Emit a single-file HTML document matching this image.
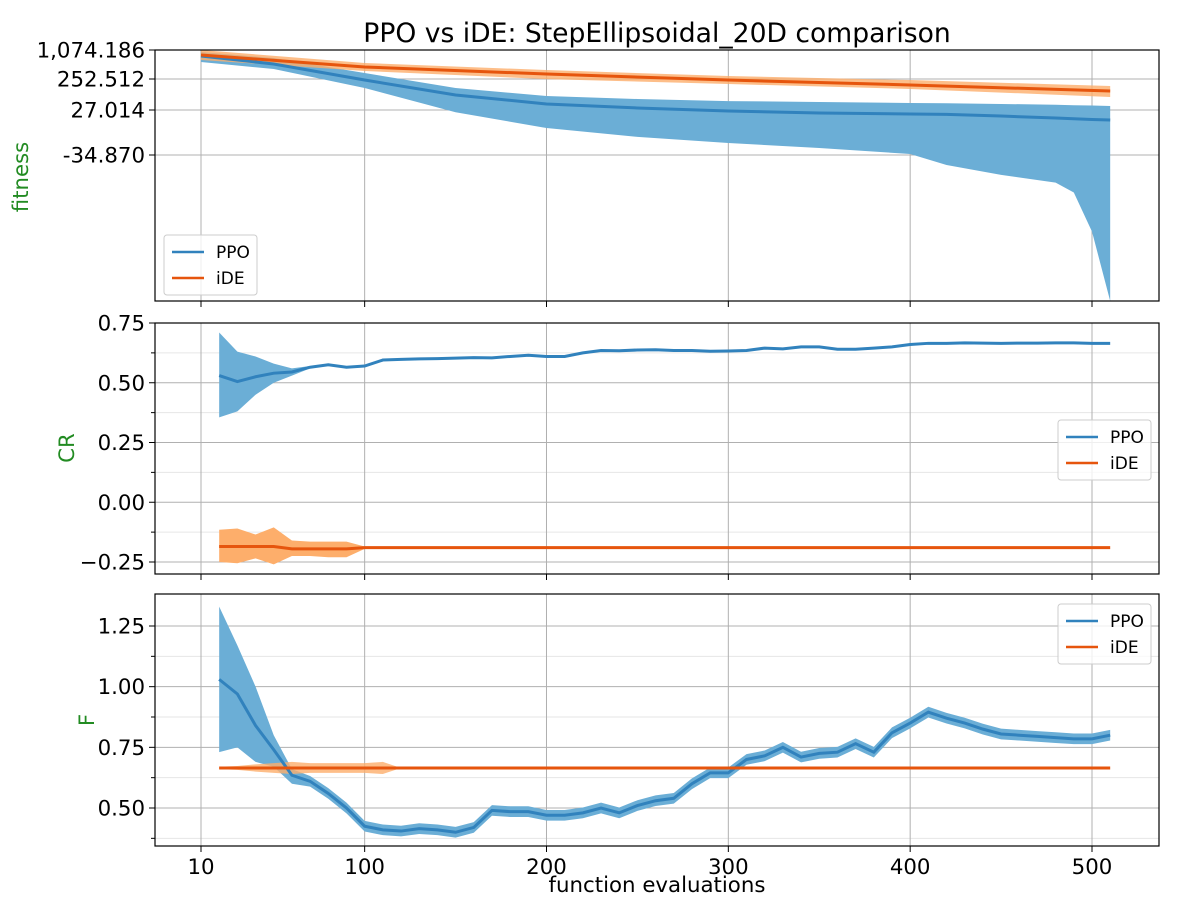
<!DOCTYPE html>
<html><head><meta charset="utf-8">
<style>
html,body{margin:0;padding:0;background:#fff;}
svg text{font-family:"DejaVu Sans","Liberation Sans",sans-serif;}
</style></head>
<body>
<svg id="chart" width="1200" height="900" viewBox="0 0 1200 900" xmlns="http://www.w3.org/2000/svg"></svg>
<script>
// ---- data ----
const xTicks = [10,100,200,300,400,500];
const fitTickVals = [1074.186,252.512,27.014,-34.870];
const fitTickLabels = ["1,074.186","252.512","27.014","-34.870"];
const fitX = [10,50,100,150,200,250,300,350,400,420,450,480,490,500,510];
const ppoFitMean = [904,678,245,136,71,42,25.6,22.9,21.5,21,18.7,16,15,14,13.2];
const ppoFitUp = [1017,847,422,187,129,107,92,85,78,76,71,65,62,60,56];
const ppoFitLo = [734,536,187,24,2.2,-10,-18.4,-25.3,-33.5,-53,-71,-85,-103,-174,-300];
const ideFitX = [10,100,200,300,400,510];
const ideFitMean = [932,592,394,245,209,165];
const ideFitUp = [1074,706,507,337,245,202];
const ideFitLo = [791,479,252,216,180,122];

const pX = [20,30,40,50,60,70,80,90,100,110,120,130,140,150,160,170,180,190,200,210,220,230,240,250,260,270,280,290,300,310,320,330,340,350,360,370,380,390,400,410,420,430,440,450,460,470,480,490,500,510];
const crPPO = [0.53,0.505,0.525,0.54,0.545,0.565,0.575,0.565,0.57,0.595,0.598,0.6,0.601,0.603,0.605,0.604,0.61,0.615,0.61,0.61,0.625,0.635,0.634,0.637,0.638,0.635,0.635,0.632,0.633,0.635,0.645,0.642,0.65,0.65,0.64,0.64,0.645,0.65,0.66,0.665,0.665,0.667,0.666,0.665,0.666,0.666,0.667,0.667,0.665,0.665];
const crPPOUp = [0.71,0.63,0.61,0.58,0.56,0.57];
const crPPOLo = [0.355,0.38,0.45,0.5,0.53,0.56];
const crIDE = [-0.185,-0.185,-0.185,-0.185,-0.195,-0.195,-0.195,-0.195,-0.19,-0.19,-0.19,-0.19,-0.19,-0.19,-0.19,-0.19,-0.19,-0.19,-0.19,-0.19,-0.19,-0.19,-0.19,-0.19,-0.19,-0.19,-0.19,-0.19,-0.19,-0.19,-0.19,-0.19,-0.19,-0.19,-0.19,-0.19,-0.19,-0.19,-0.19,-0.19,-0.19,-0.19,-0.19,-0.19,-0.19,-0.19,-0.19,-0.19,-0.19,-0.19];
const crIDEUp = [-0.115,-0.11,-0.135,-0.105,-0.16,-0.165,-0.165,-0.165,-0.185];
const crIDELo = [-0.25,-0.255,-0.235,-0.26,-0.225,-0.225,-0.23,-0.23,-0.195];

const fPPO = [1.03,0.97,0.84,0.74,0.635,0.61,0.56,0.50,0.425,0.41,0.405,0.415,0.41,0.40,0.42,0.49,0.485,0.485,0.47,0.47,0.48,0.50,0.48,0.51,0.53,0.54,0.60,0.645,0.645,0.70,0.715,0.75,0.71,0.725,0.73,0.765,0.73,0.81,0.85,0.895,0.87,0.85,0.825,0.805,0.80,0.795,0.79,0.785,0.785,0.80];
const fPPOUp = [1.33,1.17,1.0,0.8,0.66];
const fPPOLo = [0.73,0.75,0.69,0.67,0.6];
const fIDE = 0.665;
const fIDEBand = [0.005,0.008,0.015,0.02,0.025,0.02,0.02,0.02,0.02,0.025,0.0];

// ---- helpers ----
const svg = document.getElementById('chart');
const NS = 'http://www.w3.org/2000/svg';
function mk(tag, attrs, parent){const e=document.createElementNS(NS,tag);for(const k in attrs)e.setAttribute(k,attrs[k]);(parent||svg).appendChild(e);return e;}
const L=155,R=1159;
function xs(v){return 201+(v-10)*(1092-201)/490;}
const C_PPO='#3182bd',C_PPO_B='#6baed6',C_IDE='#e6550d',C_IDE_B='#fdae6b';

const fitAV=[1074.186,252.512,27.014,-34.870,-300];
const fitAP=[50,79,110,155,301];
function yFit(v){
  for(let i=0;i<fitAV.length-1;i++){
    if(v>=fitAV[i+1]||i===fitAV.length-2){return fitAP[i]+(fitAV[i]-v)/(fitAV[i]-fitAV[i+1])*(fitAP[i+1]-fitAP[i]);}
  }
}
function yCR(v){return 323+(0.75-v)*(562-323)/1.0;}
function yF(v){return 626+(1.25-v)*(808-626)/0.75;}

function band(xa,up,lo,ys,color,name){
  let d='M'+xa.map((x,i)=>xs(x)+','+ys(up[i])).join('L');
  for(let i=xa.length-1;i>=0;i--)d+='L'+xs(xa[i])+','+ys(lo[i]);
  const p=mk('path',{d:d+'Z',fill:color,stroke:'none'});
  
  
}
function line(xa,ya,ys,color,name){
  const p=mk('path',{d:'M'+xa.map((x,i)=>xs(x)+','+ys(ya[i])).join('L'),fill:'none',stroke:color,'stroke-width':3});
  
  
}
function panel(top,bot,ticks,labels,ys,minor,ylabel,name){
  const g=mk('g',{});
  
  
  (minor||[]).forEach(v=>{mk('line',{x1:L,x2:R,y1:ys(v),y2:ys(v),stroke:'#e6e6e6','stroke-width':1},g);mk('line',{x1:L-4,x2:L,y1:ys(v),y2:ys(v),stroke:'#000','stroke-width':1},g);});
  ticks.forEach((v,i)=>{
    const y=ys(v);
    mk('line',{x1:L,x2:R,y1:y,y2:y,stroke:'#b0b0b0','stroke-width':1},g);
    mk('line',{x1:L-6,x2:L,y1:y,y2:y,stroke:'#000','stroke-width':1},g);
    const t=mk('text',{x:L-10,y:y+7.5,'text-anchor':'end','font-size':21.3,fill:'#000'},g);t.textContent=labels[i];
  });
  xTicks.forEach(v=>{
    mk('line',{x1:xs(v),x2:xs(v),y1:top,y2:bot,stroke:'#b0b0b0','stroke-width':1},g);
    mk('line',{x1:xs(v),x2:xs(v),y1:bot,y2:bot+6,stroke:'#000','stroke-width':1},g);
  });
  return g;
}
function frame(top,bot){mk('rect',{x:L,y:top,width:R-L,height:bot-top,fill:'none',stroke:'#000','stroke-width':1.2});}
function ylab(text,cx,cy,name){
  const t=mk('text',{x:cx,y:cy,'text-anchor':'middle','font-size':21.3,fill:'#228b22',transform:`rotate(-90 ${cx} ${cy})`});
  t.textContent=text;
  
  
}
function legend(x,y,name){
  const g=mk('g',{});
  
  
  mk('rect',{x:x,y:y,width:93,height:60,rx:3,fill:'#fff','fill-opacity':0.8,stroke:'#ccc'},g);
  mk('line',{x1:x+8,x2:x+40,y1:y+17,y2:y+17,stroke:C_PPO,'stroke-width':2.5},g);
  let t=mk('text',{x:x+52,y:y+23,'font-size':17},g);t.textContent='PPO';
  mk('line',{x1:x+8,x2:x+40,y1:y+43,y2:y+43,stroke:C_IDE,'stroke-width':2.5},g);
  t=mk('text',{x:x+52,y:y+49,'font-size':17},g);t.textContent='iDE';
}

const title=mk('text',{x:657,y:42,'text-anchor':'middle','font-size':26.6});
title.textContent='PPO vs iDE: StepEllipsoidal_20D comparison';



// panel 1
panel(50,301,fitTickVals,fitTickLabels,yFit,null,'fitness','fitness-panel');
band(fitX,ppoFitUp,ppoFitLo,yFit,C_PPO_B,'ppo-fitness-band');
band(ideFitX,ideFitUp,ideFitLo,yFit,C_IDE_B+'cc','ide-fitness-band');
line(fitX,ppoFitMean,yFit,C_PPO,'ppo-fitness-line');
line(ideFitX,ideFitMean,yFit,C_IDE,'ide-fitness-line');
frame(50,301);
ylab('fitness',28,177,'y-axis-title-fitness');
legend(164,235,'legend-fitness');

// panel 2
panel(323,574,[0.75,0.5,0.25,0,-0.25],['0.75','0.50','0.25','0.00','\u22120.25'],yCR,[0.625,0.375,0.125,-0.125],'CR','cr-panel');
band(pX.slice(0,6),crPPOUp,crPPOLo,yCR,C_PPO_B,'ppo-cr-band-early');
band(pX.slice(0,9),crIDEUp,crIDELo,yCR,C_IDE_B,'ide-cr-band-early');
line(pX,crPPO,yCR,C_PPO,'ppo-cr-line');
line(pX,crIDE,yCR,C_IDE,'ide-cr-line');
frame(323,574);
ylab('CR',74,448,'y-axis-title-cr');
legend(1058,420,'legend-cr');

// panel 3
panel(594,846,[1.25,1.0,0.75,0.5],['1.25','1.00','0.75','0.50'],yF,[1.125,0.875,0.625,0.375],'F','f-panel');
{
  const up=fPPO.map((v,i)=>i<5?fPPOUp[i]:v+0.022), lo=fPPO.map((v,i)=>i<5?fPPOLo[i]:v-0.022);
  band(pX,up,lo,yF,C_PPO_B,'ppo-f-band');
  const ix=pX.slice(0,fIDEBand.length);
  band(ix,fIDEBand.map(b=>fIDE+b),fIDEBand.map(b=>fIDE-b),yF,C_IDE_B+'cc','ide-f-band');
}
line(pX,fPPO,yF,C_PPO,'ppo-f-line');
line(pX,pX.map(()=>fIDE),yF,C_IDE,'ide-f-line');
frame(594,846);
ylab('F',94,720,'y-axis-title-f');
legend(1058,604,'legend-f');

xTicks.forEach(v=>{
  const t=mk('text',{x:xs(v),y:874,'text-anchor':'middle','font-size':21.3});
  t.textContent=String(v);
  
  
});
const xl=mk('text',{x:657,y:892,'text-anchor':'middle','font-size':21.3});
xl.textContent='function evaluations';


</script>
</body></html>
